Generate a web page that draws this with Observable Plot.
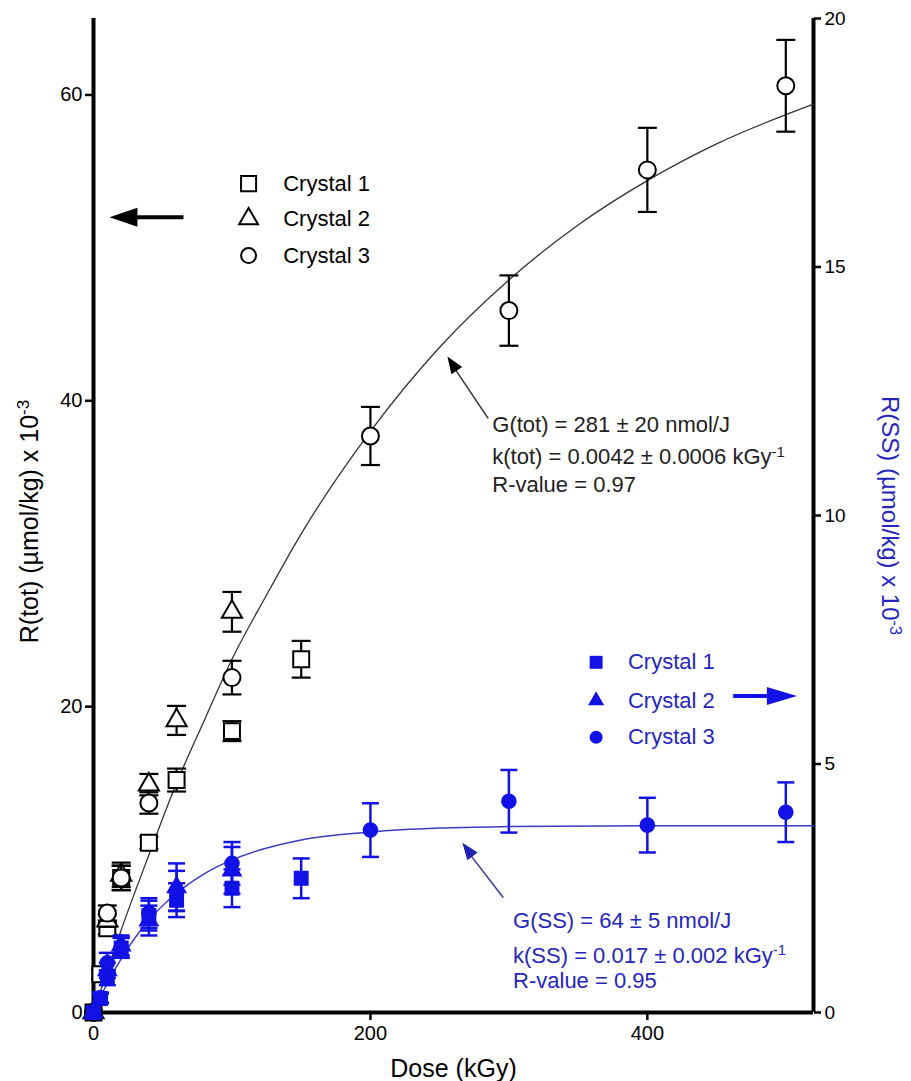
<!DOCTYPE html>
<html><head><meta charset="utf-8">
<script src="https://cdn.jsdelivr.net/npm/d3@7"></script>
<script src="https://cdn.jsdelivr.net/npm/@observablehq/plot@0.6"></script>
<style>body{margin:0;background:#fff}</style>
</head><body><div id="chart"></div>
<script>
// ---- Data: R(tot), left axis, (µmol/kg) x 10^-3 ----
const totC1Dose = [0, 5, 10, 20, 40, 60, 100, 150];
const totC1     = [0, 2.5, 5.5, 8.8, 11.1, 15.2, 18.4, 23.1];
const totC1Err  = [0, 0.3, 0.4, 0.8, 0.4, 0.75, 0.65, 1.2];
const totC2Dose = [0, 10, 20, 40, 60, 100];
const totC2     = [0, 6.0, 9.0, 14.9, 19.1, 26.2];
const totC2Err  = [0, 0.4, 0.8, 0.7, 0.95, 1.3];
const totC3Dose = [0, 10, 20, 40, 100, 200, 300, 400, 500];
const totC3     = [0, 6.5, 8.8, 13.7, 21.9, 37.7, 45.9, 55.1, 60.6];
const totC3Err  = [0, 0.5, 0.8, 0.7, 1.1, 1.9, 2.3, 2.75, 3.0];

// ---- Data: R(SS), right axis, (µmol/kg) x 10^-3 ----
const ssC1Dose = [0, 5, 10, 20, 40, 60, 100, 150];
const ssC1     = [0, 0.28, 0.7, 1.3, 1.95, 2.26, 2.5, 2.7];
const ssC1Err  = [0, 0.1, 0.15, 0.2, 0.3, 0.34, 0.38, 0.4];
const ssC2Dose = [0, 10, 20, 40, 60, 100];
const ssC2     = [0, 0.85, 1.35, 1.85, 2.52, 2.86];
const ssC2Err  = [0, 0.15, 0.2, 0.3, 0.48, 0.47];
const ssC3Dose = [0, 5, 10, 20, 40, 60, 100, 200, 300, 400, 500];
const ssC3     = [0, 0.3, 1.0, 1.31, 2.0, 2.45, 3.0, 3.67, 4.25, 3.77, 4.03];
const ssC3Err  = [0, 0.1, 0.2, 0.2, 0.3, 0.4, 0.43, 0.54, 0.63, 0.55, 0.6];

// ---- Fit curves ----
const fitTotDose = [0, 20, 40, 60, 80, 100, 125, 150, 200, 250, 300, 350, 400, 450, 520];
const fitTot     = [0, 5.4, 10.3, 15.0, 19.1, 23.1, 27.3, 31.3, 38.0, 43.5, 47.9, 51.5, 54.4, 56.8, 59.4];
const fitSSDose  = [0, 10, 20, 40, 60, 80, 100, 150, 200, 250, 300, 400, 520];
const fitSS      = [0, 0.59, 1.08, 1.86, 2.40, 2.79, 3.07, 3.47, 3.63, 3.71, 3.74, 3.76, 3.76];

// ---- Axes / labels ----
const xTicks = [0, 200, 400];
const leftTicks = [0, 20, 40, 60];
const rightTicks = [0, 5, 10, 15, 20];
const legendLabels = ["Crystal 1", "Crystal 2", "Crystal 3"];
const totNotes = ["G(tot) = 281 ± 20 nmol/J", "k(tot) = 0.0042 ± 0.0006 kGy^-1", "R-value = 0.97"];
const ssNotes = ["G(SS) = 64 ± 5 nmol/J", "k(SS) = 0.017 ± 0.002 kGy^-1", "R-value = 0.95"];

const LEFT_MAX = 65, RIGHT_MAX = 20, K = LEFT_MAX / RIGHT_MAX;
const FONT = '"Liberation Sans", Arial, Helvetica, sans-serif';
const BLUE = "#1212e6", BLUE_TXT = "#2626bc", BLUE_LINE = "#3c3cc0";

function rows(dose, val, err, k) {
  return dose.map((d, i) => ({dose: d, v: val[i] * k, lo: (val[i] - err[i]) * k, hi: (val[i] + err[i]) * k, e: err[i]}));
}
const capSym = {draw(ctx, size) { const r = Math.sqrt(size / Math.PI); ctx.moveTo(-r, 0); ctx.lineTo(r, 0); }};
function headSym(angle, ratio) {
  const a = angle * Math.PI / 180, c = Math.cos(a), s = Math.sin(a);
  const rot = (x, y) => [x * c - y * s, x * s + y * c];
  return {draw(ctx, size) {
    const r = Math.sqrt(size / Math.PI), w = r * ratio;
    const p1 = rot(w, r), p2 = rot(-w, r);
    ctx.moveTo(0, 0); ctx.lineTo(p1[0], p1[1]); ctx.lineTo(p2[0], p2[1]); ctx.closePath();
  }};
}

function series(data, symbol, r, color, fill, capR, sw) {
  const eb = data.filter(d => d.e > 0);
  return [
    Plot.ruleX(eb, {x: "dose", y1: "lo", y2: "hi", stroke: color, strokeWidth: sw}),
    Plot.dot(eb, {x: "dose", y: "lo", symbol: capSym, r: capR, stroke: color, fill: "none", strokeWidth: sw}),
    Plot.dot(eb, {x: "dose", y: "hi", symbol: capSym, r: capR, stroke: color, fill: "none", strokeWidth: sw}),
    Plot.dot(data, {x: "dose", y: "v", symbol, r, stroke: color, fill, strokeWidth: 2})
  ];
}

const totFit = fitTotDose.map((d, i) => ({dose: d, v: fitTot[i]}));
const ssFit = fitSSDose.map((d, i) => ({dose: d, v: fitSS[i] * K}));

const t1 = rows(totC1Dose, totC1, totC1Err, 1);
const t2 = rows(totC2Dose, totC2, totC2Err, 1);
const t3 = rows(totC3Dose, totC3, totC3Err, 1);
const s1 = rows(ssC1Dose, ssC1, ssC1Err, K);
const s2 = rows(ssC2Dose, ssC2, ssC2Err, K);
const s3 = rows(ssC3Dose, ssC3, ssC3Err, K);

const legY = [54.2, 51.9, 49.5];
const legYb = [22.9, 20.4, 18.0];
const noteY = [38.4, 36.3, 34.5];
const noteYb = [6.0, 3.73, 2.09];

const plot = Plot.plot({
  width: 911, height: 1081,
  marginLeft: 93, marginRight: 98, marginTop: 18, marginBottom: 69,
  style: {fontFamily: FONT, background: "white", color: "black"},
  x: {domain: [0, 520], label: null},
  y: {domain: [0, LEFT_MAX], label: null},
  marks: [
    // axes
    Plot.axisX({ticks: xTicks, tickSize: 8, tickPadding: 5, fontSize: 20, strokeWidth: 2.5, label: null}),
    Plot.axisY({ticks: leftTicks, tickSize: 8, tickPadding: 3, fontSize: 20, strokeWidth: 2.5, label: null}),
    Plot.axisY({anchor: "right", ticks: rightTicks.map(v => v * K), tickFormat: d => String(Math.round(d / K)),
                tickSize: 7, tickPadding: 4, fontSize: 19, strokeWidth: 2.5, label: null}),
    Plot.ruleX([0], {strokeWidth: 4}),
    Plot.ruleX([520], {strokeWidth: 4}),
    Plot.ruleY([0], {strokeWidth: 4}),
    // axis titles
    Plot.text(["R(tot) (µmol/kg) x 10^-3"], {text: d => d, frameAnchor: "left", textAnchor: "middle", lineAnchor: "middle",
               rotate: -90, dx: -64, dy: 6, fontSize: 25}),
    Plot.text(["R(SS) (µmol/kg) x 10^-3"], {text: d => d, frameAnchor: "right", textAnchor: "middle", lineAnchor: "middle",
               rotate: 90, dx: 76, dy: 0, fontSize: 24, fill: BLUE_TXT}),
    Plot.text(["Dose (kGy)"], {text: d => d, frameAnchor: "bottom", textAnchor: "middle", lineAnchor: "middle",
               dy: 56, fontSize: 25}),
    // fit curves
    Plot.line(totFit, {x: "dose", y: "v", stroke: "#333", strokeWidth: 1.3, curve: "monotone-x"}),
    Plot.line(ssFit, {x: "dose", y: "v", stroke: BLUE_LINE, strokeWidth: 1.5, curve: "monotone-x"}),
    // total radicals (open symbols)
    ...series(t1, "square", 9, "black", "white", 9.5, 2.2),
    ...series(t2, "triangle", 7.5, "black", "white", 9.5, 2.2),
    ...series(t3, "circle", 8.5, "black", "white", 9.5, 2.2),
    // SS radicals (filled symbols)
    ...series(s1, "square", 7.3, BLUE, BLUE, 8.5, 2.5),
    ...series(s2, "triangle", 6.5, BLUE, BLUE, 8.5, 2.5),
    ...series(s3, "circle", 6.8, BLUE, BLUE, 8.5, 2.5),
    // black legend
    Plot.dot([0], {x: 112, y: legY[0], symbol: "square", r: 8.5, stroke: "black", fill: "white", strokeWidth: 2}),
    Plot.dot([0], {x: 112, y: legY[1], symbol: "triangle", r: 7, stroke: "black", fill: "white", strokeWidth: 2}),
    Plot.dot([0], {x: 112, y: legY[2], symbol: "circle", r: 7.5, stroke: "black", fill: "white", strokeWidth: 2}),
    Plot.text(legendLabels, {x: 137, y: (d, i) => legY[i], text: d => d, textAnchor: "start", fontSize: 22}),
    Plot.link([0], {x1: 65, y1: 52.0, x2: 23, y2: 52.0, stroke: "black", strokeWidth: 4}),
    Plot.dot([0], {x: 11.5, y: 52.0, symbol: headSym(-90, 0.34), r: 28, fill: "black", stroke: "none"}),
    // blue legend
    Plot.dot([0], {x: 363, y: legYb[0], symbol: "square", r: 7.3, fill: BLUE, stroke: "none"}),
    Plot.dot([0], {x: 363, y: legYb[1], symbol: "triangle", r: 6, fill: BLUE, stroke: "none"}),
    Plot.dot([0], {x: 363, y: legYb[2], symbol: "circle", r: 6.5, fill: BLUE, stroke: "none"}),
    Plot.text(legendLabels, {x: 386, y: (d, i) => legYb[i], text: d => d, textAnchor: "start", fontSize: 22, fill: BLUE_TXT}),
    Plot.link([0], {x1: 462, y1: 20.7, x2: 496, y2: 20.7, stroke: BLUE, strokeWidth: 4}),
    Plot.dot([0], {x: 508, y: 20.7, symbol: headSym(90, 0.3), r: 30, fill: BLUE, stroke: "none"}),
    // annotations
    Plot.text(totNotes, {x: 288, y: (d, i) => noteY[i], text: d => d, textAnchor: "start", fontSize: 22, fill: "#222"}),
    Plot.link([0], {x1: 285, y1: 38.85, x2: 258, y2: 42.5, stroke: "#333", strokeWidth: 1.5}),
    Plot.dot([0], {x: 255.6, y: 42.9, symbol: headSym(-33.5, 0.38), r: 17, fill: "black", stroke: "none"}),
    Plot.text(ssNotes, {x: 303, y: (d, i) => noteYb[i], text: d => d, textAnchor: "start", fontSize: 22, fill: BLUE_TXT}),
    Plot.link([0], {x1: 296, y1: 7.5, x2: 268, y2: 10.8, stroke: "#3a3a9a", strokeWidth: 1.5}),
    Plot.dot([0], {x: 266.4, y: 11.1, symbol: headSym(-36.7, 0.38), r: 17, fill: "#2222b0", stroke: "none"})
  ]
});

// superscripts: "^..." becomes a raised tspan
plot.querySelectorAll("text").forEach(t => {
  const targets = t.querySelectorAll("tspan").length ? Array.from(t.querySelectorAll("tspan")) : [t];
  targets.forEach(el => {
    const s = el.textContent;
    if (!s.includes("^")) return;
    const [base, sup] = s.split("^");
    el.textContent = base;
    const ts = document.createElementNS("http://www.w3.org/2000/svg", "tspan");
    ts.setAttribute("dy", "-0.5em");
    ts.setAttribute("font-size", "0.68em");
    ts.textContent = sup;
    el.appendChild(ts);
  });
});
document.getElementById("chart").appendChild(plot);
</script>
</body></html>
